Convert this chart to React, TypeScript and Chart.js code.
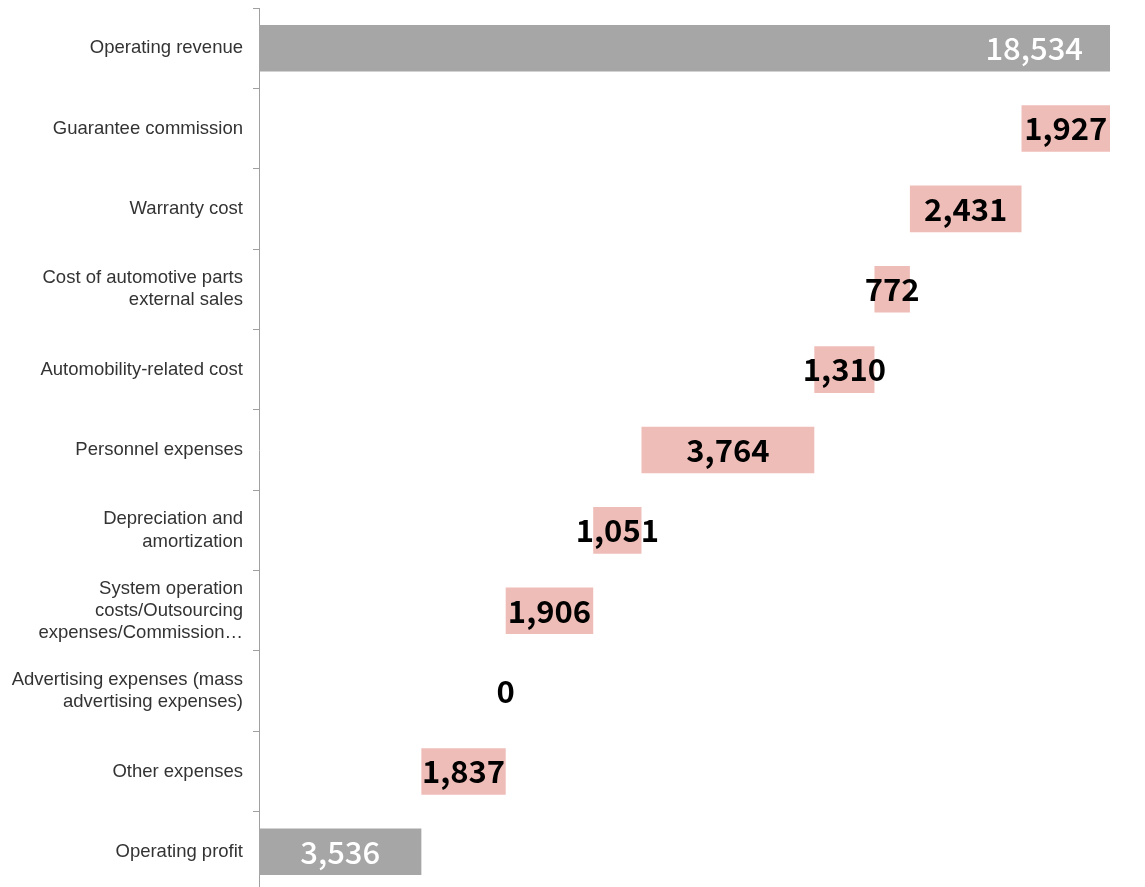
import React, { useEffect, useRef } from "react";
import { Chart, registerables } from "chart.js";

Chart.register(...registerables);

const categories: (string | string[])[] = [
  "Operating revenue",
  "Guarantee commission",
  "Warranty cost",
  ["Cost of automotive parts", "external sales"],
  "Automobility-related cost",
  "Personnel expenses",
  ["Depreciation and", "amortization"],
  ["System operation", "costs/Outsourcing", "expenses/Commission…"],
  ["Advertising expenses (mass", "advertising expenses)"],
  "Other expenses",
  "Operating profit",
];

const operatingRevenue = 18534;
const costItems = [1927, 2431, 772, 1310, 3764, 1051, 1906, 0, 1837];
const operatingProfit = 3536;

const GRAY = "#A6A6A6";
const PINK = "#EFBDB8";

export default function App() {
  const ref = useRef<HTMLCanvasElement | null>(null);

  useEffect(() => {
    if (!ref.current) return;
    const ranges: [number, number][] = [[0, operatingRevenue]];
    const shown: number[] = [operatingRevenue];
    let level = operatingRevenue;
    for (const c of costItems) {
      ranges.push([level - c, level]);
      shown.push(c);
      level -= c;
    }
    ranges.push([0, operatingProfit]);
    shown.push(operatingProfit);
    const colors = ranges.map((_, i) =>
      i === 0 || i === ranges.length - 1 ? GRAY : PINK
    );

    const labelPlugin = {
      id: "valueLabels",
      afterDatasetsDraw(chart: any) {
        const ctx = chart.ctx;
        const meta = chart.getDatasetMeta(0);
        ctx.save();
        ctx.textBaseline = "middle";
        meta.data.forEach((bar: any, i: number) => {
          const p = bar.getProps(["x", "y", "base"], true);
          const left = Math.min(p.x, p.base);
          const right = Math.max(p.x, p.base);
          const txt = shown[i].toLocaleString("en-US");
          const isTotal = i === 0 || i === shown.length - 1;
          ctx.font = isTotal
            ? '500 31px "Noto Sans CJK JP", "Noto Sans", sans-serif'
            : 'bold 31px "Noto Sans CJK JP", "Noto Sans", sans-serif';
          ctx.fillStyle = isTotal ? "#FFFFFF" : "#000000";
          if (i === 0) {
            ctx.textAlign = "right";
            ctx.fillText(txt, right - 27, p.y);
          } else {
            ctx.textAlign = "center";
            ctx.fillText(txt, (left + right) / 2, p.y);
          }
        });
        ctx.restore();
      },
    };

    const chart = new Chart(ref.current, {
      type: "bar",
      data: {
        labels: categories,
        datasets: [
          {
            data: ranges as any,
            backgroundColor: colors,
            borderWidth: 0,
            barPercentage: 0.58,
            categoryPercentage: 1,
          },
        ],
      },
      options: {
        indexAxis: "y",
        animation: false,
        responsive: false,
        devicePixelRatio: 1,
        layout: { padding: { top: 8, bottom: 8, right: 35, left: 0 } },
        plugins: {
          legend: { display: false },
          tooltip: { enabled: false },
        },
        scales: {
          x: {
            display: false,
            min: 0,
            max: operatingRevenue,
          },
          y: {
            afterFit(scale: any) {
              scale.width = 259;
              scale.paddingTop = 0;
              scale.paddingBottom = 0;
            },
            border: { display: true, color: "#A0A0A0", width: 1 },
            grid: {
              drawOnChartArea: false,
              drawTicks: true,
              tickLength: 6,
              color: "#A0A0A0",
            },
            ticks: {
              color: "#333333",
              padding: 10,
              font: { family: '"Liberation Sans", Arial, sans-serif', size: 18.5 },
            },
          },
        },
      },
      plugins: [labelPlugin],
    });
    return () => chart.destroy();
  }, []);

  return (
    <div style={{ position: "fixed", left: 0, top: 0, width: 1145, height: 900 }}>
      <canvas ref={ref} width={1145} height={900} />
    </div>
  );
}
